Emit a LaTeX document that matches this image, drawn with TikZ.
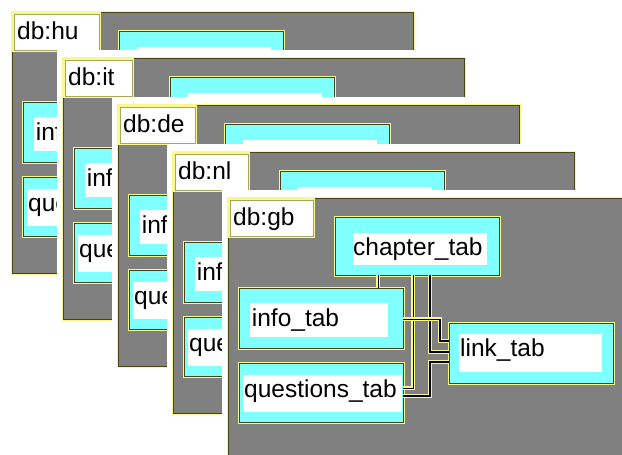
\documentclass[tikz,border=0pt]{standalone}
\usepackage{fontspec}
\setmainfont{Liberation Sans}
\usetikzlibrary{calc}

\definecolor{panelgray}{RGB}{128,128,128}
\definecolor{tabcyan}{RGB}{128,255,255}
\definecolor{halo}{RGB}{248,248,140}
\definecolor{rim}{RGB}{70,70,20}

\tikzset{
  rimmed/.style={preaction={draw=halo,line width=3pt}, draw=rim, line width=0.8pt},
  framebox/.style={rectangle, fill=panelgray, rimmed, inner sep=0pt, outer sep=0pt,
    minimum width=401pt, minimum height=261pt, anchor=north west},
  labelbox/.style={rectangle, fill=white, preaction={draw=halo,line width=3.2pt},
    draw=rim!45!halo, line width=0.6pt, inner sep=0pt, outer sep=0pt,
    minimum height=36pt, anchor=north west},
  tabbox/.style={rectangle, fill=tabcyan, rimmed, inner sep=0pt, outer sep=0pt,
    minimum width=164pt, anchor=north west},
  tabtext/.style={anchor=base west, inner sep=0pt, font=\fontsize{24.5}{29}\selectfont},
  relation/.style={preaction={draw=halo,line width=4pt}, draw=black, line width=1.6pt},
}

% one database schema panel: #1,#2 = top left corner, #3 = country code,
% #4 = label width, #5 = table captions shown in full (1) or only where uncovered (0)
\newcommand\dbpanel[5]{%
\begin{scope}[shift={(#1,#2)}]
  \fill[white] (-6,-8) rectangle (407,267);
  \node[framebox] (frame-#3) at (0,0) {};
  \node[labelbox, minimum width=#4pt] (lbl-#3) at (2,2) {};
  \node[tabtext] (lbltxt-#3) at ($(lbl-#3.north west)+(3,25)$) {db:#3};
  % tables
  \node[tabbox, minimum height=58pt] (chap-#3) at (107,19) {};
  \fill[white] ($(chap-#3.north west)+(18,16)$) rectangle ($(chap-#3.south east)+(-12,-10)$);
  \node[tabbox, minimum height=60pt] (info-#3) at (11,90) {};
  \fill[white] ($(info-#3.north west)+(11,15)$) rectangle ($(info-#3.south east)+(-15,-11)$);
  \node[tabtext] (infotxt-#3) at ($(info-#3.north west)+(12.7,38.7)$) {info\_tab};
  \node[tabbox, minimum height=59pt] (ques-#3) at (11,165) {};
  \fill[white] ($(ques-#3.north west)+(4,12)$) rectangle ($(ques-#3.south east)+(-1,-10)$);
  \node[tabtext] (questxt-#3) at ($(ques-#3.north west)+(5,34.3)$) {questions\_tab};
  \node[tabbox, minimum height=60pt] (link-#3) at (221,125) {};
  \fill[white] ($(link-#3.north west)+(10,11)$) rectangle ($(link-#3.south east)+(-11,-11)$);
  \ifnum#5=1
    \node[tabtext] (chaptxt-#3) at ($(chap-#3.north west)+(18,38)$) {chapter\_tab};
    \node[tabtext] (linktxt-#3) at ($(link-#3.north west)+(11,33.7)$) {link\_tab};
  \fi
  % connector end points
  \coordinate (ca-#3) at ($(chap-#3.south west)+(43.3,0)$);
  \coordinate (cb-#3) at ($(chap-#3.south west)+(78.3,0)$);
  \coordinate (cc-#3) at ($(chap-#3.south west)+(95,0)$);
  \coordinate (qa-#3) at ($(ques-#3.north east)+(0,25.3)$);
  \coordinate (qb-#3) at ($(ques-#3.north east)+(0,33)$);
  \coordinate (ia-#3) at ($(info-#3.north east)+(0,31.3)$);
  \coordinate (la-#3) at ($(link-#3.north west)+(0,28.7)$);
  \coordinate (lb-#3) at ($(link-#3.north west)+(0,17.7)$);
  \coordinate (lc-#3) at ($(link-#3.north west)+(0,38.7)$);
  \coordinate (kb-#3) at ($(lb-#3)+(-9,0)$);
  \coordinate (kc-#3) at ($(lc-#3)+(-19,0)$);
  % relations
  \draw[relation] (ca-#3) -- (ca-#3 |- info-#3.north);
  \draw[relation] (cb-#3) |- (qa-#3);
  \draw[relation] (cc-#3) |- (la-#3);
  \draw[relation] (ia-#3) -| (kb-#3) -- (lb-#3);
  \draw[relation] (qb-#3) -| (kc-#3) -- (lc-#3);
\end{scope}}

\begin{document}
\begin{tikzpicture}[x=1pt, y=-1pt]
  \clip (0,0) rectangle (622,455);
  \fill[white] (0,0) rectangle (622,455);
  \dbpanel{12}{12}{hu}{85}{0}
  \dbpanel{63}{58}{it}{67}{0}
  \dbpanel{118}{105}{de}{75}{0}
  \dbpanel{173}{152}{nl}{73}{0}
  \dbpanel{228}{198}{gb}{83}{1}
\end{tikzpicture}
\end{document}
